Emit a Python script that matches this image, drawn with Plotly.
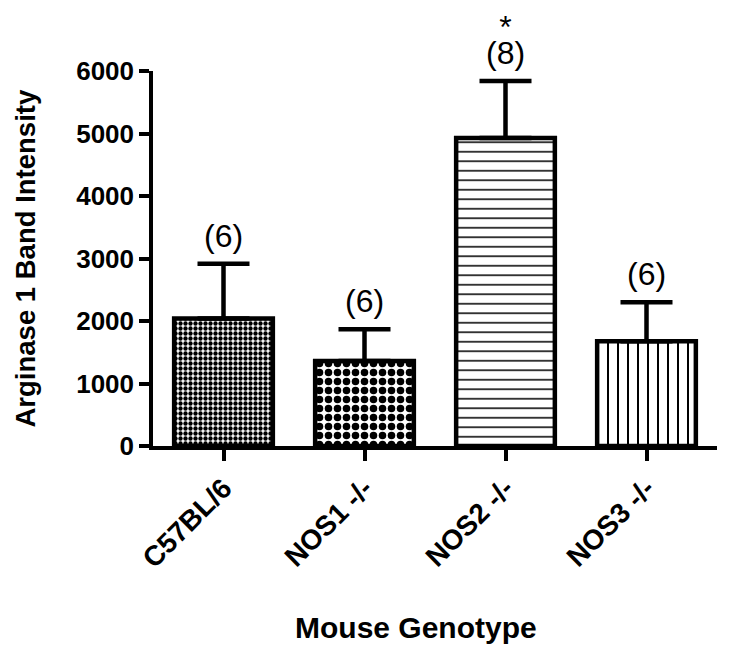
import plotly.graph_objects as go

genotypes = ["C57BL/6", "NOS1 -/-", "NOS2 -/-", "NOS3 -/-"]
means = [2040, 1360, 4930, 1675]
errors = [875, 507, 910, 624]
n_labels = ["(6)", "(6)", "(8)", "(6)"]
sig_labels = ["", "", "*", ""]
y_ticks = [0, 1000, 2000, 3000, 4000, 5000, 6000]

patterns = [".", ".", "-", "|"]
pattern_sizes = [5, 9, 9.5, 10]
pattern_solidity = [0.6, 0.55, 0.16, 0.2]

FONT = "Arial, Liberation Sans, sans-serif"

fig = go.Figure()
fig.add_trace(go.Bar(
    x=genotypes,
    y=means,
    width=0.7,
    marker=dict(
        color="white",
        line=dict(color="black", width=4.5),
        pattern=dict(shape=patterns, size=pattern_sizes, solidity=pattern_solidity,
                     fgcolor="black", bgcolor="white", fillmode="replace"),
    ),
    error_y=dict(type="data", array=errors, arrayminus=[0] * len(errors),
                 symmetric=False, color="black", thickness=4.5, width=26),
    showlegend=False,
))

big = "<span style='font-size:32px'>{}</span>"
for g, m, e, lab, sig in zip(genotypes, means, errors, n_labels, sig_labels):
    if sig:
        # star and n label in one text block (tight line spacing via small base font)
        fig.add_annotation(x=g, y=m + e, text=big.format(sig) + "<br>" + big.format(lab),
                           showarrow=False, yanchor="bottom", yshift=8,
                           font=dict(family=FONT, size=20, color="black"))
    else:
        fig.add_annotation(x=g, y=m + e, text=lab, showarrow=False, yanchor="bottom",
                           yshift=8, font=dict(family=FONT, size=32, color="black"))

# axis titles
fig.add_annotation(xref="paper", yref="paper", x=0.466, y=0, yshift=-181, xanchor="center",
                   yanchor="middle", showarrow=False, text="Mouse Genotype",
                   font=dict(family=FONT, size=30, weight="bold", color="black"))
fig.add_annotation(xref="paper", yref="paper", x=0, y=0.5, xshift=-128, xanchor="center",
                   yanchor="middle", showarrow=False, textangle=-90,
                   text="Arginase 1 Band Intensity",
                   font=dict(family=FONT, size=27.5, weight="bold", color="black"))

fig.update_layout(
    width=729, height=658,
    margin=dict(l=145, r=20, t=63, b=220),
    paper_bgcolor="white", plot_bgcolor="white",
    font=dict(family=FONT, color="black"),
    xaxis=dict(
        range=[-0.5, 3.5], showline=True, linecolor="black", linewidth=3.5,
        ticks="outside", ticklen=11, tickwidth=3.5, tickcolor="black",
        tickangle=-45, tickfont=dict(family=FONT, size=28, weight="bold", color="black"),
        showgrid=False, zeroline=False,
    ),
    yaxis=dict(
        range=[0, 6000], tickvals=y_ticks, showline=True, linecolor="black", linewidth=3.5,
        ticks="outside", ticklen=10, tickwidth=3.5, tickcolor="black",
        tickfont=dict(family=FONT, size=26, weight="bold", color="black"),
        showgrid=False, zeroline=False,
    ),
)

fig.write_html("out.html")
